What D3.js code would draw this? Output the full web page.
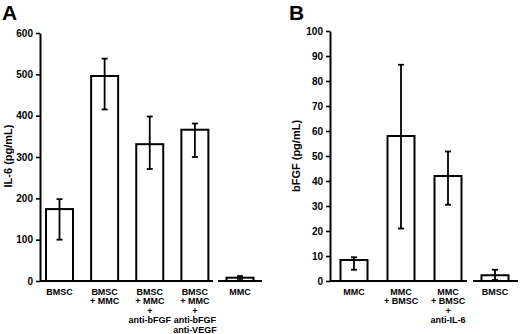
<!DOCTYPE html>
<html>
<head>
<meta charset="utf-8">
<script src="https://cdn.jsdelivr.net/npm/d3@7"></script>
<style>
  body { margin: 0; background: #fff; }
  svg { display: block; font-family: "Liberation Sans", Arial, sans-serif; font-weight: bold; }
</style>
</head>
<body>
<svg width="520" height="334"></svg>
<script>
// panel A - IL-6
var catsA = ["BMSC", "BMSC\n+ MMC", "BMSC\n+ MMC\n+\nanti-bFGF", "BMSC\n+ MMC\n+\nanti-bFGF\nanti-VEGF", "MMC"];
var meanA = [174, 496, 331, 366, 8];
var lowA  = [100, 415, 271, 300, 5];
var highA = [198, 538, 398, 381, 12];
var ticksA = [0, 100, 200, 300, 400, 500, 600];

// panel B - bFGF
var catsB = ["MMC", "MMC\n+ BMSC", "MMC\n+ BMSC\n+\nanti-IL-6", "BMSC"];
var meanB = [8.4, 58, 42, 2.3];
var lowB  = [4.5, 21, 30.5, 0.4];
var highB = [9.5, 86.5, 51.8, 4.5];
var ticksB = [0, 10, 20, 30, 40, 50, 60, 70, 80, 90, 100];

var svg = d3.select("svg");

var drawPanel = function(p)
{
  var g = svg.append("g");
  var y = d3.scaleLinear().domain(p.domain).range([281, p.top]);
  var x = d3.scalePoint().domain(d3.range(p.cats.length)).range(p.xr);
  var bw = 27;

  // y axis
  var yAxis = d3.axisLeft(y).tickValues(p.ticks).tickSize(4).tickSizeOuter(0).tickPadding(3);
  var ax = g.append("g").attr("transform", "translate(" + p.axisX + ",0)").call(yAxis);
  ax.select(".domain").attr("stroke", "#000").attr("stroke-width", 2);
  ax.selectAll(".tick line").attr("stroke", "#000").attr("stroke-width", 1.6);
  ax.selectAll(".tick text").attr("fill", "#000").style("font-size", "10px").style("font-weight", "bold")
    .style("font-family", "'Liberation Sans', Arial, sans-serif");

  // baseline with a break before last bar
  g.append("line").attr("x1", p.axisX).attr("x2", p.breakAt[0]).attr("y1", y(0)).attr("y2", y(0))
   .attr("stroke", "#000").attr("stroke-width", 2);
  g.append("line").attr("x1", p.breakAt[1]).attr("x2", p.endX).attr("y1", y(0)).attr("y2", y(0))
   .attr("stroke", "#000").attr("stroke-width", 2);

  // bars
  g.selectAll("rect.bar")
   .data(p.mean)
   .enter()
   .append("rect")
   .attr("x", function(d, i) { return x(i) - bw/2; })
   .attr("y", function(d) { return y(d); })
   .attr("width", bw)
   .attr("height", function(d) { return y(0) - y(d); })
   .attr("fill", "#fff")
   .attr("stroke", "#000")
   .attr("stroke-width", 2);

  // error bars
  var eb = g.selectAll("g.err").data(p.mean).enter().append("g");
  eb.append("line")
    .attr("x1", function(d, i) { return x(i); })
    .attr("x2", function(d, i) { return x(i); })
    .attr("y1", function(d, i) { return y(p.low[i]); })
    .attr("y2", function(d, i) { return y(p.high[i]); })
    .attr("stroke", "#000").attr("stroke-width", 1.8);
  eb.append("line")
    .attr("x1", function(d, i) { return x(i) - 3; })
    .attr("x2", function(d, i) { return x(i) + 3; })
    .attr("y1", function(d, i) { return y(p.low[i]); })
    .attr("y2", function(d, i) { return y(p.low[i]); })
    .attr("stroke", "#000").attr("stroke-width", 1.8);
  eb.append("line")
    .attr("x1", function(d, i) { return x(i) - 3; })
    .attr("x2", function(d, i) { return x(i) + 3; })
    .attr("y1", function(d, i) { return y(p.high[i]); })
    .attr("y2", function(d, i) { return y(p.high[i]); })
    .attr("stroke", "#000").attr("stroke-width", 1.8);

  // category labels
  var lab = g.selectAll("text.cat")
   .data(p.cats)
   .enter()
   .append("text")
   .attr("text-anchor", "middle")
   .style("font-size", "9px")
   .attr("transform", function(d, i) { return "translate(" + x(i) + ",295)"; });
  lab.selectAll("tspan")
   .data(function(d) { return d.split("\n"); })
   .enter()
   .append("tspan")
   .attr("x", 0)
   .attr("y", function(d, j) { return j * 9.4; })
   .text(function(d) { return d; });

  // axis title
  g.append("text")
   .attr("transform", "translate(" + p.titleX + ",156) rotate(-90)")
   .attr("text-anchor", "middle")
   .style("font-size", "11px")
   .text(p.title);

  // panel letter
  g.append("text")
   .attr("x", p.letterX)
   .attr("y", 20)
   .style("font-size", "21px")
   .text(p.letter);
};

drawPanel({cats: catsA, mean: meanA, low: lowA, high: highA, ticks: ticksA, domain: [0, 600], top: 33,
           xr: [59.5, 240], axisX: 40, breakAt: [213, 218], endX: 262, title: "IL-6 (pg/mL)", titleX: 12,
           letter: "A", letterX: 2});
drawPanel({cats: catsB, mean: meanB, low: lowB, high: highB, ticks: ticksB, domain: [0, 100], top: 31,
           xr: [354, 495], axisX: 330, breakAt: [467, 473], endX: 518, title: "bFGF (pg/mL)", titleX: 300,
           letter: "B", letterX: 289});
</script>
</body>
</html>
